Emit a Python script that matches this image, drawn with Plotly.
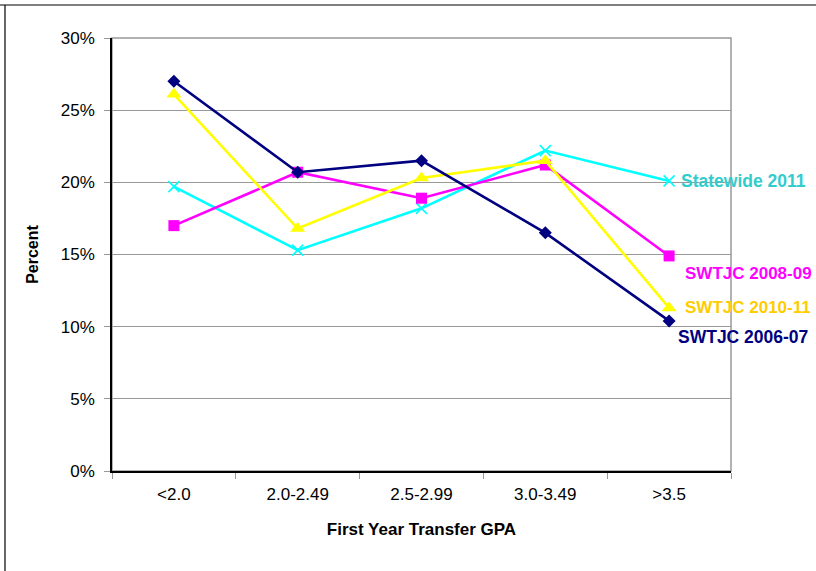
import plotly.graph_objects as go

categories = ["<2.0", "2.0-2.49", "2.5-2.99", "3.0-3.49", ">3.5"]
swtjc_2006_07 = [27.0, 20.7, 21.5, 16.5, 10.4]
swtjc_2008_09 = [17.0, 20.7, 18.9, 21.2, 14.9]
swtjc_2010_11 = [26.1, 16.8, 20.3, 21.5, 11.3]
statewide_2011 = [19.7, 15.3, 18.2, 22.2, 20.1]
y_ticks = [0, 5, 10, 15, 20, 25, 30]

FONT = "Liberation Sans, Arial, sans-serif"

series = [
    ("Statewide 2011", statewide_2011, "#00FFFF", dict(symbol="x-thin-open", size=11, line=dict(width=1.6, color="#00FFFF")), "#33CCCC", 10, 0, 17.5),
    ("SWTJC 2008-09", swtjc_2008_09, "#FF00FF", dict(symbol="square", size=11), "#FF00FF", 14, -18, 17),
    ("SWTJC 2010-11", swtjc_2010_11, "#FFFF00", dict(symbol="triangle-up", size=13), "#FFCC00", 14, 0, 17),
    ("SWTJC 2006-07", swtjc_2006_07, "#000080", dict(symbol="diamond", size=10), "#000080", 7, -16, 17.5),
]

fig = go.Figure()
annotations = []
for name, vals, color, marker, lcolor, xs, ys, fs in series:
    m = dict(color=color, **marker)
    fig.add_trace(go.Scatter(x=categories, y=vals, mode="lines+markers", name=name,
                             line=dict(color=color, width=2.6), marker=m, showlegend=False))
    annotations.append(dict(x=categories[-1], y=vals[-1], xref="x", yref="y", text=name,
                            showarrow=False, xanchor="left", yanchor="middle",
                            xshift=xs, yshift=ys,
                            font=dict(family=FONT, size=fs, color=lcolor, weight="bold")))

fig.update_layout(
    width=816, height=571,
    margin=dict(l=112, r=85, t=38, b=100),
    plot_bgcolor="white", paper_bgcolor="white",
    font=dict(family=FONT, size=16, color="black"),
    annotations=annotations,
    shapes=[
        dict(type="rect", xref="paper", yref="paper", x0=0, x1=1, y0=0, y1=1,
             line=dict(color="#999999", width=1.5), layer="below"),
        dict(type="line", xref="paper", yref="paper", x0=-112/619, x1=1.2, y0=1+33/433, y1=1+33/433,
             line=dict(color="black", width=1.2)),
        dict(type="line", xref="paper", yref="paper", x0=-107/619, x1=-107/619, y0=-0.3, y1=1+33/433,
             line=dict(color="black", width=1.2)),
    ],
)
fig.update_xaxes(
    type="category", range=[-0.5, 4.5], showgrid=False,
    showline=True, linecolor="black", linewidth=1.5,
    ticks="outside", tickson="boundaries", ticklen=6, tickcolor="#999999",
    tickfont=dict(family=FONT, size=17), ticklabelstandoff=7,
    title=dict(text="<b>First Year Transfer GPA</b>", font=dict(family=FONT, size=17), standoff=20),
)
fig.update_yaxes(
    range=[0, 30], tickvals=y_ticks, ticktext=[f"{v}%" for v in y_ticks],
    showgrid=True, gridcolor="#999999", gridwidth=1.2,
    showline=True, linecolor="black", linewidth=1.5, zeroline=False,
    ticks="outside", ticklen=6, tickcolor="#999999",
    tickfont=dict(family=FONT, size=17), ticklabelstandoff=6,
    title=dict(text="<b>Percent</b>", font=dict(family=FONT, size=16), standoff=18),
)

fig.write_html("out.html", config={"displayModeBar": False},
               post_script="document.body.style.margin='0';document.body.style.overflow='hidden';")
